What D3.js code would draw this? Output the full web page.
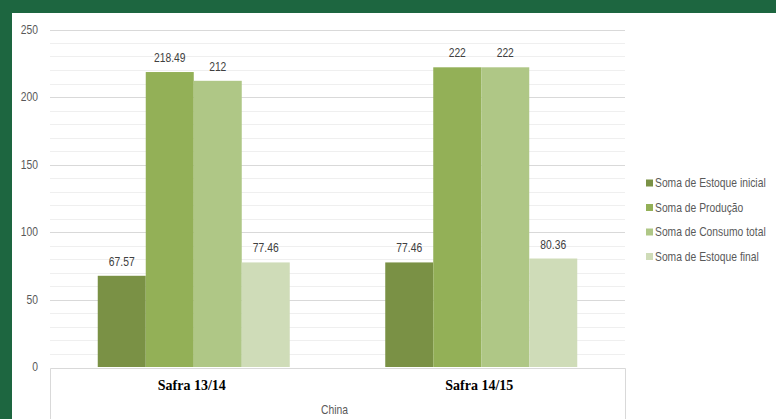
<!DOCTYPE html>
<html><head><meta charset="utf-8">
<script src="https://cdn.jsdelivr.net/npm/d3@7"></script>
<style>
html,body{margin:0;padding:0;background:#1d6640;}
svg{display:block;}
</style></head>
<body>
<svg id="c" width="776" height="419"></svg>
<script>
const categories = ["Safra 13/14", "Safra 14/15"];
const seriesNames = ["Soma de Estoque inicial", "Soma de Produção", "Soma de Consumo total", "Soma de Estoque final"];
const estoqueInicial = [67.57, 77.46];
const producao = [218.49, 222];
const consumoTotal = [212, 222];
const estoqueFinal = [77.46, 80.36];
const yTicks = [0, 50, 100, 150, 200, 250];
const groupLabel = "China";
const colors = ["#7a9145", "#93b057", "#afc786", "#cfdcb8"];

const seriesValues = [estoqueInicial, producao, consumoTotal, estoqueFinal];
const svg = d3.select("#c");
const W = 776, H = 419;
const font = "'Liberation Sans',Arial,sans-serif";
const SX = 0.86; // horizontal condense to mimic a narrow font

// white panel
svg.append("rect").attr("x", 12).attr("y", 13).attr("width", W - 12).attr("height", H - 13).attr("fill", "#fff");

const x0 = 50, x1 = 625, yTop = 29.5, yBot = 367;
const y = d3.scaleLinear().domain([0, 250]).range([yBot, yTop]);
const xCat = d3.scaleBand().domain(categories).range([x0, x1]);
const xSer = d3.scaleBand().domain(seriesNames).range([0, 192]);

// minor gridlines
const minor = d3.range(10, 250, 10).filter(v => v % 50 !== 0);
svg.append("g").selectAll("line").data(minor).join("line")
  .attr("x1", x0).attr("x2", x1).attr("y1", d => Math.round(y(d)) + 0.5).attr("y2", d => Math.round(y(d)) + 0.5)
  .attr("stroke", "#efefef").attr("stroke-width", 1);
// major gridlines
svg.append("g").selectAll("line").data(yTicks.filter(v => v > 0)).join("line")
  .attr("x1", x0).attr("x2", x1).attr("y1", d => Math.round(y(d)) + 0.5).attr("y2", d => Math.round(y(d)) + 0.5)
  .attr("stroke", "#d9d9d9").attr("stroke-width", 1.2);

// y axis labels
const yAxis = d3.axisLeft(y).tickValues(yTicks).tickSize(0).tickPadding(0);
const gy = svg.append("g").attr("transform", "translate(38,0)").call(yAxis);
gy.select(".domain").remove();
gy.selectAll("text").attr("font-family", font).attr("font-size", 12).attr("fill", "#595959")
  .attr("transform", `scale(${SX},1)`);

// bars
const groups = svg.append("g").selectAll("g").data(categories).join("g")
  .attr("transform", d => `translate(${xCat(d) + (xCat.bandwidth() - 192) / 2},0)`);
groups.each(function(cat, ci) {
  const g = d3.select(this);
  const data = seriesNames.map((s, si) => ({s, si, v: seriesValues[si][ci]}));
  g.selectAll("rect").data(data).join("rect")
    .attr("x", d => xSer(d.s)).attr("width", xSer.bandwidth())
    .attr("y", d => y(d.v)).attr("height", d => yBot - y(d.v))
    .attr("fill", d => colors[d.si]);
  g.selectAll("g.lbl").data(data).join("g").attr("class", "lbl")
    .attr("transform", d => `translate(${xSer(d.s) + xSer.bandwidth() / 2},${y(d.v) - 10}) scale(${SX},1)`)
    .append("text")
    .attr("text-anchor", "middle")
    .attr("font-family", font).attr("font-size", 12).attr("fill", "#404040")
    .text(d => d.v);
});

// category axis box
const axisG = svg.append("g").attr("fill", "none").attr("stroke", "#d9d9d9").attr("stroke-width", 1);
axisG.append("path").attr("d", `M${x0 + 0.5},${H}V${yBot + 1.5}H${x1 + 0.5}V${H}`);

const xAxis = d3.axisBottom(xCat).tickSize(0).tickPadding(0);
const gx = svg.append("g").attr("transform", `translate(0,${yBot + 13})`).call(xAxis);
gx.select(".domain").remove();
gx.selectAll("text").attr("font-family", "'Liberation Serif','DejaVu Serif',serif")
  .attr("font-weight", "bold").attr("font-size", 14).attr("fill", "#000").attr("dx", -2);

svg.append("g").attr("transform", `translate(${(x0 + x1) / 2 - 3},414) scale(${SX},1)`)
  .append("text").attr("text-anchor", "middle")
  .attr("font-family", font).attr("font-size", 12).attr("fill", "#595959").text(groupLabel);

// legend
const lg = svg.append("g").selectAll("g").data(seriesNames).join("g")
  .attr("transform", (d, i) => `translate(646,${183 + i * 24.5})`);
lg.append("rect").attr("x", 0).attr("y", -3.5).attr("width", 7).attr("height", 7).attr("fill", (d, i) => colors[i]);
lg.append("text").attr("transform", `translate(9,4) scale(${SX},1)`).attr("font-family", font).attr("font-size", 12)
  .attr("fill", "#595959").text(d => d);
</script>
</body></html>
